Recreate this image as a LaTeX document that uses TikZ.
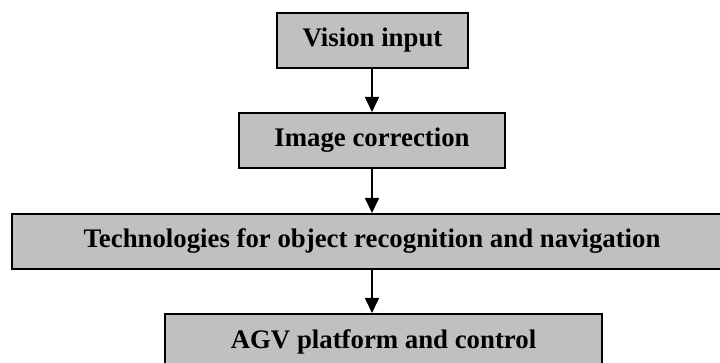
\documentclass[tikz,border=0pt]{standalone}
\usepackage{fontspec}
\setmainfont{Liberation Serif}
\usetikzlibrary{arrows.meta}
\definecolor{boxgray}{RGB}{192,192,192}
\tikzset{
  stagebox/.style={draw=black, line width=1pt, fill=boxgray, minimum height=27.5pt,
    inner sep=0pt, font=\fontsize{13.4pt}{15pt}\selectfont\bfseries},
  flowarrow/.style={line width=0.8pt, -{Triangle[width=7pt,length=7.5pt]}}
}
\begin{document}
\begin{tikzpicture}[x=0.5pt,y=-0.5pt]
  \useasboundingbox (0,0) rectangle (720,363);
  \clip (0,0) rectangle (720,363);
  \node[stagebox, minimum width=95.5pt] (vision) at (372.5,40.5) {Vision input};
  \node[stagebox, minimum width=133pt] (correct) at (372,140.5) {Image correction};
  \node[stagebox, minimum width=360pt] (tech) at (372,241.5) {Technologies for object recognition and navigation};
  \node[stagebox, minimum width=218.5pt] (agv) at (383.5,341.5) {AGV platform and control};
  \draw[flowarrow] (vision.south -| 372,0) -- (correct.north -| 372,0);
  \draw[flowarrow] (correct.south -| 372,0) -- (tech.north -| 372,0);
  \draw[flowarrow] (tech.south -| 372,0) -- (agv.north -| 372,0);
\end{tikzpicture}
\end{document}
